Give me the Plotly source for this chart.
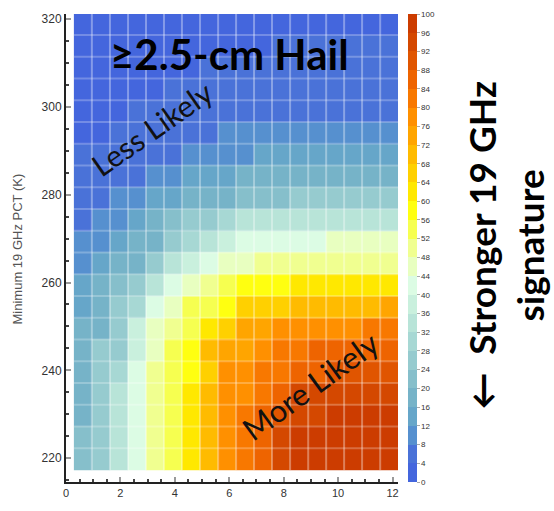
import plotly.graph_objects as go

# ---- data ----
x_centers = [0.62, 1.28, 1.95, 2.61, 3.27, 3.93, 4.59, 5.26, 5.92, 6.58,
             7.24, 7.90, 8.57, 9.23, 9.89, 10.55, 11.21, 11.88]
y_centers = [318.8, 313.85, 308.9, 303.95, 299.0, 294.05, 289.1, 284.15, 279.2, 274.25,
             269.3, 264.35, 259.4, 254.45, 249.5, 244.55, 239.6, 234.65, 229.7, 224.75, 219.8]
# rows listed from top (warmest PCT) to bottom
z_rows = [
    [1, 1, 1, 1, 1, 1, 1, 1, 1, 1, 2, 2, 2, 2, 2, 2, 2, 2],
    [1, 1, 1, 1, 1, 1, 1, 2, 2, 2, 2, 4, 5, 5, 5, 5, 5, 5],
    [1, 1, 1, 1, 1, 1, 2, 4, 5, 5, 5, 5, 5, 5, 5, 5, 5, 5],
    [1, 1, 1, 2, 2, 5, 5, 5, 5, 5, 5, 5, 5, 6, 6, 6, 6, 6],
    [1, 1, 1, 5, 5, 5, 5, 5, 5, 5, 6, 6, 6, 6, 6, 6, 6, 6],
    [1, 1, 4, 5, 5, 5, 6, 6, 9, 9, 10, 10, 10, 10, 10, 10, 10, 10],
    [5, 5, 5, 6, 7, 7, 8, 8, 9, 10, 13, 14, 14, 14, 14, 14, 14, 14],
    [5, 5, 7, 7, 9, 10, 12, 14, 15, 16, 17, 17, 18, 18, 18, 19, 19, 19],
    [5, 6, 9, 10, 12, 14, 16, 18, 19, 20, 22, 23, 24, 25, 25, 25, 25, 25],
    [5, 9, 10, 14, 16, 20, 25, 28, 30, 32, 33, 33, 33, 34, 34, 34, 34, 34],
    [8, 10, 14, 16, 18, 24, 30, 34, 38, 41, 41, 42, 43, 43, 44, 44, 44, 44],
    [8, 13, 16, 18, 26, 33, 38, 41, 46, 47, 50, 51, 51, 51, 51, 51, 51, 51],
    [13, 16, 20, 28, 35, 41, 47, 51, 54, 57, 58, 58, 60, 60, 62, 62, 63, 63],
    [15, 17, 28, 30, 41, 47, 53, 56, 58, 65, 66, 67, 68, 69, 70, 70, 71, 72],
    [17, 18, 28, 36, 45, 51, 54, 61, 65, 72, 74, 76, 77, 78, 79, 79, 80, 81],
    [17, 25, 28, 39, 47, 54, 58, 68, 72, 74, 79, 80, 82, 84, 86, 86, 86, 86],
    [18, 26, 30, 41, 49, 55, 58, 65, 76, 77, 81, 82, 86, 87, 89, 89, 90, 90],
    [18, 26, 32, 41, 49, 55, 60, 69, 76, 79, 83, 85, 92, 93, 94, 95, 95, 95],
    [18, 26, 33, 41, 49, 55, 60, 70, 77, 80, 85, 88, 93, 95, 96, 96, 96, 96],
    [20, 26, 33, 41, 49, 55, 60, 70, 77, 80, 86, 92, 96, 97, 97, 97, 97, 97],
    [21, 27, 33, 41, 49, 55, 60, 70, 77, 80, 86, 92, 96, 97, 98, 98, 98, 98],
]
x_ticks = [0, 2, 4, 6, 8, 10, 12]
y_ticks = [220, 240, 260, 280, 300, 320]
cbar_ticks = list(range(0, 101, 4))

band_colors = [
    "#4466dd", "#4a72d8", "#5690cf", "#66a6c9", "#76b3c8", "#86bfcb", "#96cbcf",
    "#a7d8d4", "#b8e4d8", "#c9f0dd", "#dcfce4", "#e8ffc0", "#f0ff90", "#f6ff50",
    "#ffff10", "#ffe800", "#ffd000", "#ffbb00", "#ffa500", "#ff9000", "#f87800",
    "#ee6400", "#e05500", "#d44800", "#cc3c00",
]
n = len(band_colors)
colorscale = []
for i, c in enumerate(band_colors):
    colorscale.append([i / n, c])
    colorscale.append([(i + 1) / n, c])

fig = go.Figure()
fig.add_trace(go.Heatmap(
    x=x_centers, y=y_centers, z=z_rows,
    zmin=0, zmax=100, colorscale=colorscale, zsmooth=False,
    colorbar=dict(
        x=1.0301, xanchor="left", xpad=0, y=0.5, yanchor="middle",
        len=1, lenmode="fraction", ypad=0, thickness=9, outlinewidth=0,
        tickvals=cbar_ticks, ticks="outside", ticklen=3, tickcolor="#aaaaaa",
        tickfont=dict(size=8, color="#333333", family="Liberation Sans"),
    ),
))

# faint cell separators
def edges(c):
    return [(a + b) / 2 for a, b in zip(c[:-1], c[1:])]

ys_sorted = sorted(y_centers)
x0e = x_centers[0] - (x_centers[1] - x_centers[0]) / 2
x1e = x_centers[-1] + (x_centers[1] - x_centers[0]) / 2
y0e = ys_sorted[0] - (ys_sorted[1] - ys_sorted[0]) / 2
y1e = ys_sorted[-1] + (ys_sorted[1] - ys_sorted[0]) / 2
shapes = []
for xe in edges(x_centers):
    shapes.append(dict(type="line", xref="x", yref="y", x0=xe, x1=xe, y0=y0e, y1=y1e,
                       line=dict(color="rgba(255,255,255,0.35)", width=2)))
for ye in edges(ys_sorted):
    shapes.append(dict(type="line", xref="x", yref="y", x0=x0e, x1=x1e, y0=ye, y1=ye,
                       line=dict(color="rgba(255,255,255,0.25)", width=2)))

fig.update_layout(
    width=554, height=511,
    margin=dict(l=66, r=156, t=12, b=24),
    paper_bgcolor="white", plot_bgcolor="white",
    shapes=shapes,
    showlegend=False,
    xaxis=dict(range=[0, 12.2], tickvals=x_ticks, ticks="inside", ticklen=5, tickcolor="#999999",
               tickwidth=2, showgrid=False, zeroline=False, showline=True, linecolor="#222222",
               linewidth=2, tickfont=dict(size=11, color="#333333", family="Liberation Sans"),
               minor=dict(dtick=0.5, ticks="inside", ticklen=3, tickcolor="#444444", showgrid=False)),
    yaxis=dict(range=[214.6, 321.1], tickvals=y_ticks, ticks="inside", ticklen=5, tickcolor="#999999",
               tickwidth=2, showgrid=False, zeroline=False, showline=True, linecolor="#222222",
               linewidth=2, tickfont=dict(size=12, color="#333333", family="Liberation Sans"),
               minor=dict(dtick=5, ticks="inside", ticklen=3, tickcolor="#444444", showgrid=False)),
    annotations=[
        dict(text="<b>≥2.5-cm Hail</b>", x=6.0, y=312.0, xref="x", yref="y", showarrow=False,
             font=dict(family="Lato", size=42, color="black"), xanchor="center", yanchor="middle"),
        dict(text="Less Likely", x=3.16, y=295.1, xref="x", yref="y", showarrow=False, textangle=-35,
             font=dict(family="Lato", size=30, color="#111111")),
        dict(text="More Likely", x=8.97, y=236.4, xref="x", yref="y", showarrow=False, textangle=-36,
             font=dict(family="Lato", size=31, color="#111111")),
        dict(text="<b>←  Stronger 19 GHz<br>signature</b>", x=1.325, y=0.507, xref="paper", yref="paper",
             xanchor="center", yanchor="middle",
             showarrow=False, textangle=-90, align="center",
             font=dict(family="Lato", size=37, color="black")),
        dict(text="Minimum 19 GHz PCT (K)", x=-0.1476, y=0.499, xref="paper", yref="paper",
             xanchor="center", yanchor="middle",
             showarrow=False, textangle=-90,
             font=dict(family="Liberation Sans", size=13, color="#555555")),
    ],
)

fig.write_html("out.html")
